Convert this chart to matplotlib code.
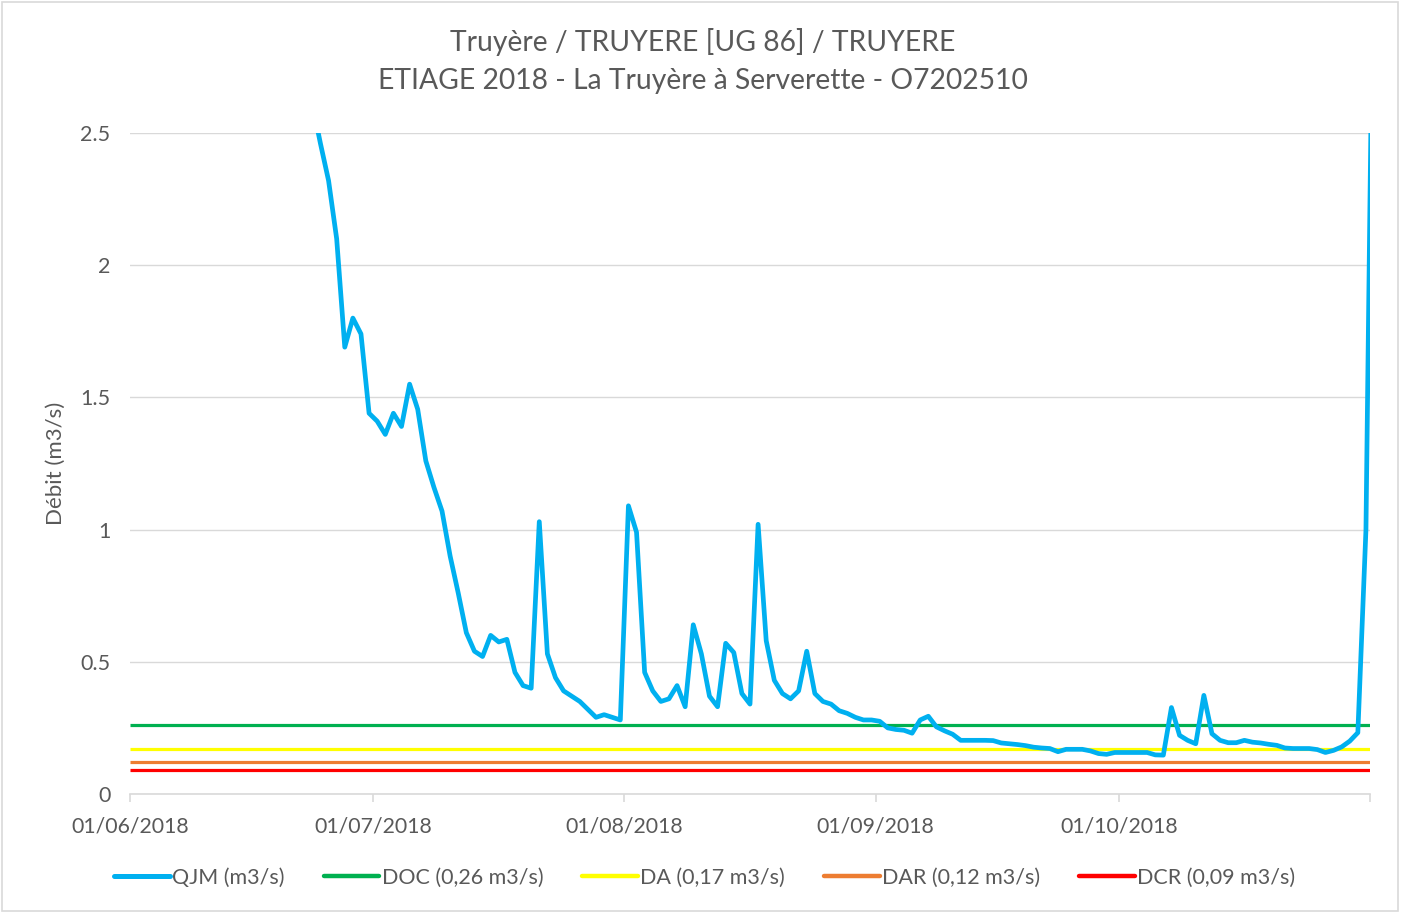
import matplotlib
matplotlib.use("Agg")
import matplotlib.pyplot as plt
import matplotlib.dates as mdates
from matplotlib.lines import Line2D
from matplotlib.patches import Rectangle
import pandas as pd

# ---------------- data ----------------
title_lines = ["Truyère / TRUYERE [UG 86] / TRUYERE",
               "ETIAGE 2018 - La Truyère à Serverette - O7202510"]
y_label = "Débit (m3/s)"

start_date = "2018-06-01"
end_date = "2018-11-01"

q_june = [4.6, 4.4, 4.3, 4.5, 4.8, 4.6, 4.3, 4.1, 3.9, 3.8, 3.9, 3.7, 3.5, 3.4, 3.3,
          3.2, 3.1, 3.0, 2.95, 2.9, 2.8, 2.7, 2.61, 2.46, 2.32, 2.10, 1.69, 1.80, 1.74, 1.44]
q_july = [1.41, 1.36, 1.44, 1.39, 1.55, 1.455, 1.26, 1.16, 1.07, 0.90, 0.76, 0.61, 0.54,
          0.52, 0.60, 0.575, 0.585, 0.46, 0.41, 0.40, 1.03, 0.53, 0.44, 0.39, 0.37, 0.35,
          0.32, 0.29, 0.30, 0.29, 0.28]
q_aug = [1.09, 0.99, 0.46, 0.39, 0.35, 0.36, 0.41, 0.33, 0.64, 0.53, 0.37, 0.33, 0.57,
         0.535, 0.38, 0.34, 1.02, 0.58, 0.43, 0.38, 0.36, 0.39, 0.54, 0.38, 0.35, 0.34,
         0.315, 0.305, 0.29, 0.28, 0.28]
q_sep = [0.275, 0.25, 0.244, 0.241, 0.23, 0.28, 0.294, 0.254, 0.239, 0.226, 0.203, 0.203,
         0.203, 0.203, 0.202, 0.193, 0.19, 0.187, 0.183, 0.177, 0.174, 0.172, 0.16, 0.169,
         0.169, 0.169, 0.163, 0.153, 0.15, 0.157]
q_oct = [0.157, 0.157, 0.157, 0.157, 0.148, 0.147, 0.327, 0.222, 0.203, 0.19, 0.373,
         0.228, 0.203, 0.194, 0.194, 0.203, 0.196, 0.193, 0.188, 0.184, 0.174, 0.172,
         0.172, 0.172, 0.168, 0.157, 0.165, 0.178, 0.20, 0.232, 1.0]
q_nov = [3.5]

thresholds_names = ["DOC (0,26 m3/s)", "DA (0,17 m3/s)", "DAR (0,12 m3/s)", "DCR (0,09 m3/s)"]
thresholds_values = [0.26, 0.17, 0.12, 0.09]
thresholds_colors = ["#00B050", "#FFFF00", "#ED7D31", "#FF0000"]
qjm_name = "QJM (m3/s)"
qjm_color = "#00B0F0"

tick_dates = ["2018-06-01", "2018-07-01", "2018-08-01", "2018-09-01", "2018-10-01", "2018-11-01"]
tick_labels = ["01/06/2018", "01/07/2018", "01/08/2018", "01/09/2018", "01/10/2018", ""]
y_ticks = [0, 0.5, 1, 1.5, 2, 2.5]
y_tick_labels = ["0", "0.5", "1", "1.5", "2", "2.5"]

# ---------------- figure ----------------
plt.rcParams['font.family'] = ['Lato', 'DejaVu Sans']
TXT = "#595959"
GRID = "#D9D9D9"

W, H = 1405, 914
fig = plt.figure(figsize=(W / 100, H / 100), dpi=100)
ax = fig.add_axes([130 / W, 1 - 794 / H, (1370 - 130) / W, (794 - 133) / H])

q_all = q_june + q_july + q_aug + q_sep + q_oct + q_nov
dates = pd.date_range(start_date, end_date, freq="D") + pd.Timedelta(hours=12)

handles = []
for name, val, col in zip(thresholds_names, thresholds_values, thresholds_colors):
    ax.axhline(val, color=col, lw=2.3, zorder=3, solid_capstyle='butt')
    handles.append(Line2D([], [], color=col, lw=3.2, solid_capstyle='round', label=name))

ax.plot(dates, q_all, color=qjm_color, lw=3.4, zorder=4, solid_joinstyle='round',
        solid_capstyle='butt')
handles.insert(0, Line2D([], [], color=qjm_color, lw=3.6, solid_capstyle='round', label=qjm_name))

ax.set_xlim(pd.Timestamp(start_date), pd.Timestamp(end_date))
ax.set_ylim(0, 2.5)

ax.set_yticks(y_ticks)
ax.set_yticklabels(y_tick_labels)
ax.set_xticks([pd.Timestamp(d) for d in tick_dates])
ax.set_xticklabels(tick_labels)

ax.grid(axis='y', color=GRID, lw=1.0)
ax.set_axisbelow(True)
for s in ['top', 'right', 'left']:
    ax.spines[s].set_visible(False)
ax.spines['bottom'].set_color(GRID)
ax.spines['bottom'].set_linewidth(1.2)
ax.spines['bottom'].set_zorder(1)

ax.tick_params(axis='y', length=0, pad=14, labelsize=15.5, labelcolor=TXT)
ax.tick_params(axis='x', direction='out', length=6, width=1.2, color=GRID,
               pad=10, labelsize=15.3, labelcolor=TXT)

ax.set_ylabel(y_label, fontsize=16, color=TXT)
ax.yaxis.set_label_coords(-(130 - 66) / 1240, 0.5)

fig.text(0.5, 1 - 42 / H, title_lines[0], ha='center', va='center', fontsize=20.3, color=TXT)
fig.text(0.5, 1 - 81 / H, title_lines[1], ha='center', va='center', fontsize=20.3, color=TXT)

fig.legend(handles=handles, loc='center', bbox_to_anchor=(704.5 / W, 1 - 878 / H),
           ncol=5, frameon=False, fontsize=15.5, handlelength=2.6, handletextpad=0.1,
           columnspacing=1.8, labelcolor=TXT)

fig.patches.append(Rectangle((1.5 / W, 1 - 911 / H), (1398 - 1.5) / W, (911 - 2) / H,
                             transform=fig.transFigure, fill=False, edgecolor=GRID, lw=1.2))

fig.savefig("out.png", dpi=100, facecolor="white")
